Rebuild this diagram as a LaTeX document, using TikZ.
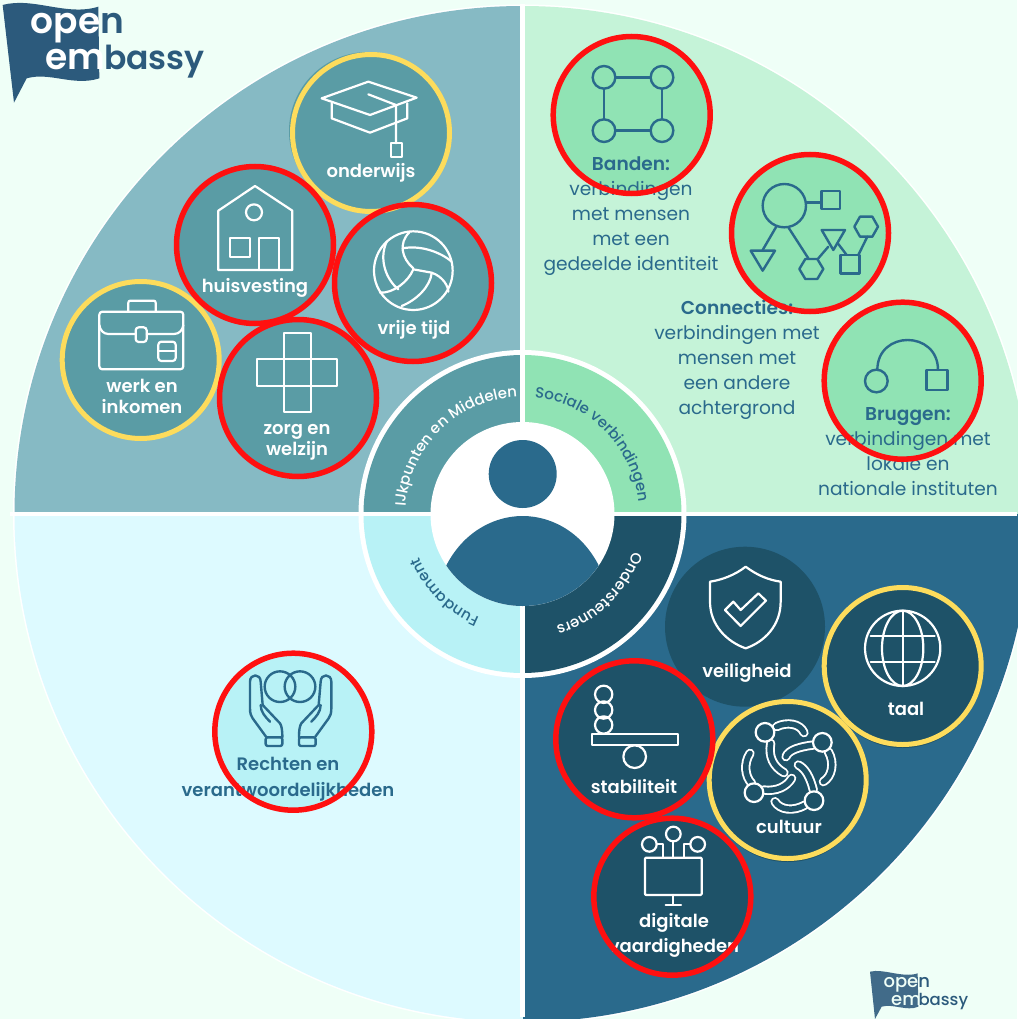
\documentclass[tikz,border=0pt]{standalone}
\usepackage{fontspec}
\usetikzlibrary{decorations.text}
\setmainfont{Poppins}
\newfontfamily\medf{Poppins Medium}
\newfontfamily\semf{Poppins SemiBold}
\definecolor{bgc}{HTML}{EFFFF7}
\definecolor{qa}{HTML}{86BAC4}
\definecolor{qb}{HTML}{C5F3D8}
\definecolor{qc}{HTML}{DDFAFF}
\definecolor{qd}{HTML}{2A6A8C}
\definecolor{da}{HTML}{5A9CA5}
\definecolor{db}{HTML}{90E3B4}
\definecolor{dc}{HTML}{B8F2F6}
\definecolor{dd}{HTML}{1E5268}
\definecolor{blu}{HTML}{2A6A8C}
\definecolor{flagc}{HTML}{2C5A7C}
\definecolor{redc}{HTML}{FF1010}
\definecolor{yelc}{HTML}{FDDC5C}
\tikzset{
 disc/.style={circle,inner sep=0pt,minimum size=158pt},
 redring/.style={draw=redc,line width=5.5pt},
 yelring/.style={draw=yelc,line width=5pt},
 whitelab/.style={text=white,font=\semf\fontsize{18}{21}\selectfont,align=center,inner sep=0pt},
 bluelab/.style={text=blu,font=\fontsize{18.6}{25}\selectfont,align=center,inner sep=0pt},
 iconw/.style={draw=white,line width=2.2pt,line join=round,line cap=round},
 iconb/.style={draw=blu,line width=2.4pt,line join=round,line cap=round},
 cultlimb/.style={draw=white,line width=1.9pt,double=dd,double distance=5.5pt,line cap=round},
 za/.style={x=.33333pt,y=-.33333pt},
 zb/.style={shift={(530,20)},x=.33333pt,y=-.33333pt},
 zd/.style={shift={(530,530)},x=.33333pt,y=-.33333pt},
 ze/.style={shift={(170,640)},x=.33333pt,y=-.33333pt},
 zc/.style={shift={(340,340)},x=.33333pt,y=-.33333pt},
}
\begin{document}
\begin{tikzpicture}[x=1pt,y=-1pt]
\useasboundingbox (0,0) rectangle (1017,1019);
\fill[bgc] (0,0) rectangle (1017,1019);
% pie
\fill[white] (522.5,514) circle (509.5);
\begin{scope}
\clip (522.5,514) circle (508);
\fill[qa] (0,0) rectangle (522.5,514);
\fill[qb] (522.5,0) rectangle (1040,514);
\fill[qc] (0,514) rectangle (522.5,1040);
\fill[qd] (522.5,514) rectangle (1040,1040);
\end{scope}
% inner ring
\fill[white] (522.5,514) circle (164);
\begin{scope}
\clip (522.5,514) circle (159);
\fill[da] (300,300) rectangle (522.5,514);
\fill[db] (522.5,300) rectangle (700,514);
\fill[dc] (300,514) rectangle (522.5,700);
\fill[dd] (522.5,514) rectangle (700,700);
\end{scope}
\draw[white,line width=4.6pt] (10,514) -- (1017,514);
\draw[white,line width=4.6pt] (522.5,4) -- (522.5,1017);
\fill[white] (522.5,514) circle (92);
\fill[blu] (522.7,474) circle (34);
\begin{scope}
\clip (522.5,514) circle (92);
\begin{scope}[zc]
\fill[blu] (300,720) .. controls (350,580) and (460,528) .. (548,528) .. controls (636,528) and (745,580) .. (795,720) -- (795,850) -- (300,850) -- cycle;
\end{scope}
\end{scope}
% curved labels
\begin{scope}[shift={(522.5,514)},x=1pt,y=1pt]
\path[decorate,decoration={text along path,text align=center,text={|\color{white}\medf\fontsize{15}{17}\selectfont|IJkpunten en Middelen}}] (178:117) arc[start angle=178,end angle=91,radius=117];
\path[decorate,decoration={text along path,text align=center,text={|\color{blu}\medf\fontsize{15}{17}\selectfont|Sociale verbindingen}}] (86:117) arc[start angle=86,end angle=4,radius=117];
\path[decorate,decoration={text along path,text align=center,text={|\color{blu}\medf\fontsize{15}{17}\selectfont|Fundament}}] (250:112) arc[start angle=250,end angle=200,radius=112];
\path[decorate,decoration={text along path,text align=center,text={|\color{white}\medf\fontsize{15}{17}\selectfont|Ondersteuners}}] (-16:117) arc[start angle=-16,end angle=-76,radius=117];
\end{scope}
% discs
\fill[da] (368,131) circle (79);
\node[disc,fill=da] (onderwijsdisc) at (371,133) {};
\node[disc,fill=da] (huisdisc) at (255,245) {};
\node[disc,fill=da] (vrijedisc) at (413,283) {};
\node[disc,fill=da] (werkdisc) at (140.7,360) {};
\node[disc,fill=da] (zorgdisc) at (298,398) {};
\node[disc,fill=db] (bandendisc) at (631.7,115) {};
\node[disc,fill=db] (conndisc) at (810,233) {};
\node[disc,fill=db] (bruggendisc) at (902.7,380.7) {};
\node[disc,fill=dc] (rechtendisc) at (293.3,731.7) {};
\node[disc,fill=dd,minimum size=160pt] (veiligdisc) at (745,626.7) {};
\fill[dd] (902.7,669) circle (79);
\node[disc,fill=dd] (taaldisc) at (902.7,666) {};
\fill[dd] (787.7,783) circle (79);
\node[disc,fill=dd] (cultdisc) at (787.7,780) {};
\node[disc,fill=dd] (stabdisc) at (634.3,739.3) {};
\node[disc,fill=dd] (digidisc) at (672.3,896.7) {};
% top-left icons
\begin{scope}[za]
% cap
\draw[iconw] (965,295) -- (1105,245) -- (1250,293) -- (1110,345) -- cycle;
\draw[iconw] (995,310) -- (995,355) -- (1110,398) -- (1222,355) -- (1222,310);
\draw[iconw] (1105,283) -- (1188,315) -- (1188,430);
\draw[iconw] (1172,430) rectangle (1207,472);
% house
\draw[iconw] (655,810) -- (655,632) -- (765,558) -- (877,632) -- (877,810) -- cycle;
\draw[iconw] (762,637) circle (24);
\draw[iconw] (690,715) rectangle (750,770);
\draw[iconw] (778,810) -- (778,715) -- (837,715) -- (837,810);
% ball
\draw[iconw] (1240,812) circle (118);
\draw[iconw] (1228,697) .. controls (1195,730) and (1205,775) .. (1240,805);
\draw[iconw] (1208,745) .. controls (1260,735) and (1320,755) .. (1355,785);
\draw[iconw] (1240,808) .. controls (1225,845) and (1180,880) .. (1140,878);
\draw[iconw] (1160,725) .. controls (1135,780) and (1160,840) .. (1195,868);
\draw[iconw] (1240,808) -- (1295,818) .. controls (1330,830) and (1345,860) .. (1345,875);
\draw[iconw] (1295,820) .. controls (1290,860) and (1250,900) .. (1205,918);
% briefcase
\draw[iconw,rounded corners=3pt] (298,935) rectangle (550,1108);
\draw[iconw,rounded corners=2pt] (385,935) -- (385,902) -- (467,902) -- (467,935);
\draw[iconw] (298,975) .. controls (300,990) and (310,1002) .. (325,1002) -- (405,1002);
\draw[iconw] (440,1002) -- (522,1002) .. controls (538,1002) and (548,990) .. (550,975);
\draw[iconw,rounded corners=3pt] (407,982) rectangle (440,1026);
\draw[iconw,rounded corners=3pt] (475,1025) rectangle (527,1083);
\draw[iconw] (475,1052) -- (527,1052);
% cross
\draw[iconw] (852,998) rectangle (933,1235);
\draw[iconw] (772,1078) rectangle (1012,1157);
\end{scope}
% top-right icons
\begin{scope}[zb]
\draw[iconb] (222,172) circle (34) (396,172) circle (34) (222,332) circle (34) (396,332) circle (34);
\draw[iconb] (256,172) -- (362,172) (396,206) -- (396,298) (362,332) -- (256,332) (222,298) -- (222,206);
\draw[iconb] (763,557) circle (65);
\draw[iconb] (875,513) rectangle (930,567);
\draw[iconb] (828,548) -- (875,548);
\draw[iconb] (740,618) -- (698,690);
\draw[iconb] (662,692) -- (735,692) -- (698,752) -- cycle;
\draw[iconb] (775,622) -- (835,715);
\draw[iconb] (808,747) -- (826,717) -- (862,717) -- (880,747) -- (862,777) -- (826,777) -- cycle;
\draw[iconb] (865,715) -- (895,680);
\draw[iconb] (875,630) -- (945,630) -- (910,690) -- cycle;
\draw[iconb] (925,672) -- (950,705);
\draw[iconb] (932,705) rectangle (988,760);
\draw[iconb] (985,705) -- (1012,650);
\draw[iconb] (973,620) -- (990,590) -- (1027,590) -- (1044,620) -- (1027,650) -- (990,650) -- cycle;
\draw[iconb] (1039,1083) circle (34);
\draw[iconb] (1190,1050) rectangle (1253,1110);
\draw[iconb] (1042,1050) .. controls (1042,930) and (1224,930) .. (1224,1050);
\end{scope}
% hands
\begin{scope}[ze]
\draw[iconb] (330,140) circle (46) (390,140) circle (46);
\draw[iconb] (288,290) -- (248,235) .. controls (243,228) and (240,220) .. (240,205) -- (240,125) .. controls (240,100) and (272,100) .. (272,125) -- (278,195) -- (330,250) .. controls (335,258) and (337,270) .. (337,292);
\draw[iconb] (272,195) .. controls (272,215) and (285,230) .. (300,245);
\draw[iconb,rounded corners=2pt] (287,292) rectangle (337,318);
\draw[iconb] (436,290) -- (476,235) .. controls (481,228) and (484,220) .. (484,205) -- (484,125) .. controls (484,100) and (452,100) .. (452,125) -- (446,195) -- (394,250) .. controls (389,258) and (387,270) .. (387,292);
\draw[iconb] (452,195) .. controls (452,215) and (439,230) .. (424,245);
\draw[iconb,rounded corners=2pt] (387,292) rectangle (437,318);
\end{scope}
% bottom-right icons
\begin{scope}[zd]
\draw[iconw] (647,110) .. controls (615,135) and (575,150) .. (540,155) -- (540,215) .. controls (540,285) and (590,335) .. (647,355) .. controls (705,335) and (752,285) .. (752,215) -- (752,155) .. controls (715,150) and (680,135) .. (647,110) -- cycle;
\draw[iconw] (585,240) -- (610,215) -- (632,240) -- (685,190) -- (708,212) -- (632,288) -- cycle;
\draw[iconw] (1118,355) circle (113);
\draw[iconw] (1118,355) ellipse (62 and 113);
\draw[iconw] (1118,242) -- (1118,468);
\draw[iconw] (1022,318) -- (1214,318) (1022,395) -- (1214,395);
\draw[iconw] (221,493) circle (26) (221,540) circle (26) (221,585) circle (26);
\draw[iconw] (314,680) circle (34);
\draw[iconw,fill=dd] (187,613) rectangle (443,645);
\draw[cultlimb] (740,590) .. controls (770,575) and (810,580) .. (822,608);
\draw[cultlimb] (722,640) .. controls (715,680) and (730,710) .. (762,728);
\draw[cultlimb] (850,645) .. controls (810,650) and (775,660) .. (768,680);
\draw[cultlimb] (895,665) .. controls (915,700) and (905,740) .. (880,755);
\draw[cultlimb] (660,670) .. controls (640,700) and (645,740) .. (665,760);
\draw[cultlimb] (700,780) .. controls (740,785) and (770,770) .. (785,745);
\draw[cultlimb] (850,780) .. controls (840,740) and (825,715) .. (805,705);
\draw[cultlimb] (825,825) .. controls (790,845) and (750,840) .. (735,815);
\draw[iconw,fill=dd] (705,607) circle (28) (877,637) circle (28) (672,788) circle (28) (852,812) circle (28);
\draw[iconw,rounded corners=1pt] (345,983) rectangle (515,1095);
\draw[iconw] (430,1095) -- (430,1125) (407,1125) -- (453,1125);
\draw[iconw] (358,943) circle (22) (430,912) circle (22) (503,943) circle (22);
\draw[iconw] (380,943) -- (400,943) -- (400,983) (430,934) -- (430,983) (481,943) -- (462,943) -- (462,983);
\end{scope}
% labels
\node[whitelab] (londerwijs) at (371,173) {onderwijs};
\node[whitelab] (lhuis) at (255,288) {huisvesting};
\node[whitelab] (lvrije) at (414,330) {vrije tijd};
\node[whitelab] (lwerk) at (142,396) {werk en\\inkomen};
\node[whitelab] (lzorg) at (297,442) {zorg en\\welzijn};
\node[whitelab] (lveilig) at (747,673) {veiligheid};
\node[whitelab] (ltaal) at (906,709) {taal};
\node[whitelab] (lstab) at (634,787) {stabiliteit};
\node[whitelab] (lcult) at (789,827) {cultuur};
\node[whitelab,font=\semf\fontsize{18}{25}\selectfont] (ldigi) at (674,935) {digitale\\vaardigheden};
\node[whitelab,text=blu,font=\semf\fontsize{18}{26}\selectfont] (lrecht) at (288,779) {Rechten en\\verantwoordelijkheden};
\node[bluelab] (lbanden) at (631,216) {{\semf Banden:}\\verbindingen\\met mensen\\met een\\gedeelde identiteit};
\node[bluelab] (lconn) at (737,360) {{\semf Connecties:}\\verbindingen met\\mensen met\\een andere\\achtergrond};
\node[bluelab] (lbruggen) at (908,452) {{\semf Bruggen:}\\verbindingen met\\lokale en\\nationale instituten};
% rings
\draw[yelring] (onderwijsdisc) circle (78.5);
\draw[yelring] (werkdisc) circle (78.5);
\draw[yelring] (taaldisc) circle (78.5);
\draw[yelring] (cultdisc) circle (78.5);
\draw[redring] (huisdisc) circle (78.5);
\draw[redring] (vrijedisc) circle (78.5);
\draw[redring] (zorgdisc) circle (78.5);
\draw[redring] (bandendisc) circle (78.5);
\draw[redring] (conndisc) circle (78.5);
\draw[redring] (bruggendisc) circle (78.5);
\draw[redring] (rechtendisc) circle (78.5);
\draw[redring] (stabdisc) circle (78.5);
\draw[redring] (digidisc) circle (78.5);
% logos
\begin{scope}[za]
\fill[flagc] (8,15) .. controls (100,-10) and (200,50) .. (295,20) -- (298,235) .. controls (220,260) and (150,215) .. (80,235) -- (42,308) -- cycle;
\node[anchor=base west,inner sep=0pt,text=white,font=\semf\fontsize{36}{36}\selectfont] (logoa) at (92,102) {ope\textcolor{flagc}{n}};
\node[anchor=base west,inner sep=0pt,text=white,font=\semf\fontsize{36}{36}\selectfont] (logob) at (135,208) {em};
\node[anchor=base west,inner sep=0pt,text=flagc,font=\semf\fontsize{33}{33}\selectfont] (logoe) at (312,208) {bassy};
\end{scope}
\begin{scope}[zd]
\fill[flagc!90!white] (1020,1325) .. controls (1060,1315) and (1120,1345) .. (1163,1330) -- (1165,1430) .. controls (1130,1445) and (1090,1420) .. (1055,1430) -- (1035,1467) -- cycle;
\node[anchor=base west,inner sep=0pt,text=bgc,font=\medf\fontsize{18}{18}\selectfont] (logoc) at (1060,1372) {ope\textcolor{flagc}{n}};
\node[anchor=base west,inner sep=0pt,text=bgc,font=\medf\fontsize{18}{18}\selectfont] (logod) at (1083,1425) {em};
\node[anchor=base west,inner sep=0pt,text=flagc,font=\medf\fontsize{16.5}{18}\selectfont] (logof) at (1165,1425) {bassy};
\end{scope}
\end{tikzpicture}
\end{document}
